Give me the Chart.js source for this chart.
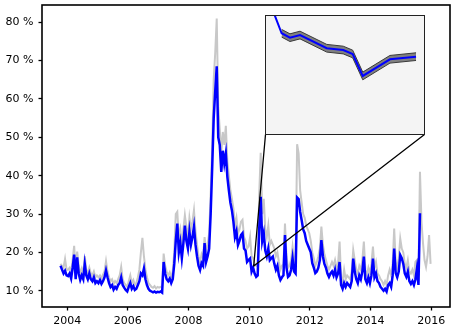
<!DOCTYPE html>
<html><head><meta charset="utf-8">
<script src="https://cdn.jsdelivr.net/npm/chart.js@4/dist/chart.umd.min.js"></script>
<style>
html,body{margin:0;padding:0;background:#fff;}
#wrap{position:relative;width:459px;height:328px;overflow:hidden;}
#main{position:absolute;left:0;top:0;}
#inset{position:absolute;left:265px;top:15px;}
</style></head><body>
<div id="wrap"><canvas id="main" width="459" height="328"></canvas><canvas id="inset" width="160" height="120"></canvas></div>
<script>
// ---- data (decimal years on a regular ~2.6-week grid) ----
const START_YEAR = 2003.78;
const STEP_YEARS = 0.05;

const grayValues = [
  17.0, 16.5, 16.0, 18.3, 15.5,
  // 2004
  15.5, 16.0, 15.0, 18.0, 21.7, 14.8, 20.2, 16.5, 14.5, 15.8, 14.5, 19.0, 15.5, 14.5, 16.0, 14.5, 14.0, 15.0, 13.5, 14.0,
  // 2005
  13.5, 14.0, 13.2, 14.2, 15.0, 17.7, 15.0, 13.5, 12.5, 13.0, 11.8, 12.5, 12.0, 13.0, 14.0, 16.2, 13.0, 12.0, 11.5, 11.0,
  // 2006
  12.5, 14.0, 12.0, 12.8, 11.5, 12.0, 13.5, 15.5, 20.0, 23.8, 19.0, 15.5, 13.5, 12.0, 11.5, 11.0, 10.8, 11.2, 10.6, 11.0,
  // 2007
  10.8, 11.0, 10.8, 19.7, 16.5, 15.0, 14.0, 14.8, 13.5, 15.0, 20.0, 30.0, 30.6, 24.0, 26.0, 22.0, 26.0, 29.7, 26.5, 24.0,
  // 2008
  29.0, 26.0, 28.0, 31.0, 25.5, 22.0, 19.0, 17.5, 19.5, 18.5, 24.0, 20.5, 22.0, 25.0, 35.0, 47.0, 65.0, 72.0, 81.0, 58.0,
  // 2009
  52.0, 46.0, 51.4, 48.0, 53.0, 43.7, 40.0, 36.2, 34.0, 31.5, 27.0, 29.0, 25.0, 26.0, 28.0, 28.5, 24.0, 23.0, 21.0, 21.5,
  // 2010
  24.0, 19.0, 18.5, 17.0, 16.5, 16.5, 35.0, 46.0, 30.0, 34.0, 26.0, 24.0, 27.0, 22.0, 23.0, 22.0, 21.0, 19.0, 20.0, 17.5,
  // 2011
  15.5, 16.5, 17.0, 27.5, 19.0, 16.0, 16.5, 18.0, 21.5, 18.0, 17.0, 48.2, 45.8, 36.2, 33.0, 30.0, 29.0, 27.0, 26.0, 25.0,
  // 2012
  23.0, 20.0, 18.5, 16.5, 17.5, 19.0, 21.0, 26.7, 22.0, 19.5, 18.0, 16.5, 15.5, 16.5, 17.5, 16.5, 18.0, 16.0, 17.0, 22.8,
  // 2013
  13.5, 12.5, 15.5, 13.0, 14.0, 13.5, 13.0, 15.0, 20.6, 18.0, 15.5, 14.5, 16.5, 15.5, 18.0, 22.8, 15.5, 14.0, 16.0, 14.5,
  // 2014
  17.0, 21.5, 16.0, 17.5, 14.5, 14.0, 13.0, 12.5, 11.5, 12.5, 11.5, 14.0, 15.5, 14.0, 17.0, 26.2, 17.5, 16.0, 18.5, 23.6,
  // 2015
  21.0, 20.0, 17.0, 16.0, 18.0, 15.0, 14.5, 15.5, 14.0, 17.5, 18.0, 14.0, 41.0, 28.0, 22.4, 18.0, 16.2, 19.0, 24.5, 17.0
];

const blueValues = [
  16.5, 15.5, 14.5, 15.2, 14.0,
  // 2004
  13.8, 14.5, 13.2, 16.0, 19.4, 13.0, 18.7, 14.5, 12.8, 14.0, 13.0, 17.0, 14.0, 13.0, 14.5, 13.0, 12.5, 13.5, 12.0, 12.5,
  // 2005
  12.0, 12.8, 11.8, 12.5, 13.5, 15.3, 13.5, 12.0, 11.0, 11.5, 10.3, 11.0, 10.5, 11.5, 12.0, 13.5, 11.5, 10.8, 10.2, 9.8,
  // 2006
  11.0, 12.0, 10.5, 11.2, 10.2, 10.5, 11.5, 12.5, 14.5, 14.0, 15.8, 13.0, 11.5, 10.5, 10.0, 9.8, 9.6, 9.8, 9.5, 9.7,
  // 2007
  9.6, 9.8, 9.5, 17.5, 14.5, 13.0, 12.5, 13.2, 12.0, 13.0, 17.0, 23.0, 27.5, 20.0, 22.5, 18.5, 22.3, 27.0, 23.0, 21.0,
  // 2008
  25.4, 22.0, 24.0, 26.7, 22.0, 19.0, 16.5, 15.4, 17.2, 16.5, 22.4, 17.5, 19.0, 21.0, 30.0, 42.0, 55.0, 62.0, 68.5, 50.0,
  // 2009
  48.0, 41.0, 46.5, 43.2, 45.8, 39.7, 36.2, 33.0, 31.0, 28.0, 24.0, 25.5, 21.9, 23.0, 24.5, 25.0, 21.0, 20.5, 17.5, 18.0,
  // 2010
  18.4, 15.0, 16.0, 14.5, 13.6, 14.0, 26.0, 34.5, 23.0, 25.0, 20.5, 19.0, 21.0, 18.0, 18.5, 18.9, 17.0, 15.5, 16.5, 14.0,
  // 2011
  12.8, 13.5, 14.0, 24.5, 16.0, 13.6, 14.0, 15.4, 18.5, 15.0, 14.5, 34.3, 33.9, 30.6, 28.4, 26.0, 25.0, 23.0, 22.0, 21.0,
  // 2012
  20.0, 17.2, 16.0, 14.6, 15.0, 16.0, 18.0, 23.2, 19.0, 17.0, 16.0, 14.5, 13.6, 14.5, 15.0, 14.0, 15.5, 13.5, 14.5, 17.5,
  // 2013
  11.5, 10.5, 12.0, 11.0, 12.0, 11.5, 11.0, 12.5, 18.4, 15.0, 13.0, 12.0, 14.0, 13.0, 15.0, 18.9, 13.0, 12.0, 13.5, 12.0,
  // 2014
  14.0, 18.4, 13.5, 14.5, 12.5, 12.0, 11.0, 10.5, 10.0, 10.5, 9.8, 11.5, 12.0, 11.0, 14.0, 21.0, 14.6, 13.5, 15.0, 19.3,
  // 2015
  18.5, 17.0, 14.5, 13.6, 15.0, 12.5, 11.8, 12.5, 11.5, 13.0, 15.8, 11.5, 30.2
];

const xTickYears = [2004, 2006, 2008, 2010, 2012, 2014, 2016];
const yTickPercents = [10, 20, 30, 40, 50, 60, 70, 80];

// inset (zoomed view, its own units)
const insetX  = [0.36, 1.04, 1.56, 2.19, 3.86, 4.89, 5.48, 6.11, 7.81, 9.44];
const insetY  = [10.83, 8.48, 8.11, 8.33, 7.23, 7.08, 6.75, 4.92, 6.31, 6.53];
const insetHi = [null, 8.80, 8.43, 8.65, 7.55, 7.40, 7.07, 5.24, 6.63, 6.85];
const insetLo = [null, 8.16, 7.79, 8.01, 6.91, 6.76, 6.43, 4.60, 5.99, 6.21];
// region of the main chart that the inset magnifies
const zoomYears = [2010.150, 2010.162];
const zoomPercents = [16.50, 16.62];

// ---- build ----
const yearAt = i => +(START_YEAR + STEP_YEARS * i).toFixed(2);
const toPts = arr => arr.map((v, i) => ({x: yearAt(i), y: v}));
const font = {family: 'DejaVu Sans', size: 11};

const mainPlugin = {
  id: 'frameAndConnectors',
  afterDraw(chart) {
    const {ctx, chartArea: a, scales: {x, y}} = chart;
    ctx.save();
    const zx0 = x.getPixelForValue(zoomYears[0]), zx1 = x.getPixelForValue(zoomYears[1]);
    const zy0 = y.getPixelForValue(zoomPercents[0]), zy1 = y.getPixelForValue(zoomPercents[1]);
    const inset = document.getElementById('inset');
    const il = inset.offsetLeft, it = inset.offsetTop;
    const ib = it + inset.height, ir = il + inset.width;
    ctx.strokeStyle = '#000';
    ctx.lineWidth = 1.3;
    ctx.strokeRect(zx0, zy1, zx1 - zx0, zy0 - zy1);
    ctx.beginPath();
    ctx.moveTo(il + 0.5, ib - 0.5); ctx.lineTo(zx0, zy0);
    ctx.moveTo(ir - 0.5, ib - 0.5); ctx.lineTo(zx1, zy0);
    ctx.stroke();
    ctx.lineWidth = 1.6;
    ctx.strokeRect(a.left, a.top, a.right - a.left, a.bottom - a.top);
    ctx.restore();
  }
};

new Chart(document.getElementById('main'), {
  type: 'line',
  data: {
    datasets: [
      {data: toPts(grayValues), borderColor: '#c8c8c8', borderWidth: 2, pointRadius: 0, tension: 0, order: 2},
      {data: toPts(blueValues), borderColor: '#0000ff', borderWidth: 2.5, pointRadius: 0, tension: 0, order: 1}
    ]
  },
  options: {
    responsive: false, animation: false, devicePixelRatio: 1,
    layout: {padding: {top: 5, right: 9, left: 0, bottom: 0}},
    plugins: {legend: {display: false}, tooltip: {enabled: false}},
    scales: {
      x: {
        type: 'linear', min: 2003.17, max: 2016.62,
        afterBuildTicks: s => { s.ticks = xTickYears.map(v => ({value: v})); },
        afterFit: s => { s.height = 21; s.paddingLeft = 0; s.paddingRight = 0; },
        ticks: {callback: v => String(v), font, color: '#000', padding: 4, maxRotation: 0, autoSkip: false},
        grid: {drawOnChartArea: false, drawTicks: true, tickLength: 3.5, tickColor: '#000', tickWidth: 1.3},
        border: {display: false}
      },
      y: {
        type: 'linear', min: 5.76, max: 84.5,
        afterBuildTicks: s => { s.ticks = yTickPercents.map(v => ({value: v})); },
        afterFit: s => { s.width = 42; s.paddingTop = 0; s.paddingBottom = 0; },
        ticks: {callback: v => v + ' %', font, color: '#000', padding: 5, autoSkip: false},
        grid: {drawOnChartArea: false, drawTicks: true, tickLength: 3.5, tickColor: '#000', tickWidth: 1.3},
        border: {display: false}
      }
    }
  },
  plugins: [mainPlugin]
});

const insetPlugin = {
  id: 'insetFrame',
  beforeDraw(chart) {
    const {ctx, width, height} = chart;
    ctx.save(); ctx.fillStyle = '#f4f4f4'; ctx.fillRect(0, 0, width, height); ctx.restore();
  },
  afterDraw(chart) {
    const {ctx, width, height} = chart;
    ctx.save(); ctx.strokeStyle = '#222'; ctx.lineWidth = 1;
    ctx.strokeRect(0.5, 0.5, width - 1, height - 1); ctx.restore();
  }
};

const ip = arr => arr.map((v, i) => ({x: insetX[i], y: v}));
new Chart(document.getElementById('inset'), {
  type: 'line',
  data: {
    datasets: [
      {data: ip(insetHi), borderColor: '#3a3a3a', borderWidth: 1, pointRadius: 0, fill: '+1', backgroundColor: '#808080', tension: 0, order: 3},
      {data: ip(insetLo), borderColor: '#3a3a3a', borderWidth: 1, pointRadius: 0, fill: false, tension: 0, order: 2},
      {data: ip(insetY), borderColor: '#0000ff', borderWidth: 2, pointRadius: 0, fill: false, tension: 0, order: 1}
    ]
  },
  options: {
    responsive: false, animation: false, devicePixelRatio: 1,
    layout: {padding: 0},
    plugins: {legend: {display: false}, tooltip: {enabled: false}},
    scales: {
      x: {type: 'linear', min: 0, max: 10, display: false},
      y: {type: 'linear', min: 0, max: 10, display: false}
    }
  },
  plugins: [insetPlugin]
});
</script>
</body></html>
